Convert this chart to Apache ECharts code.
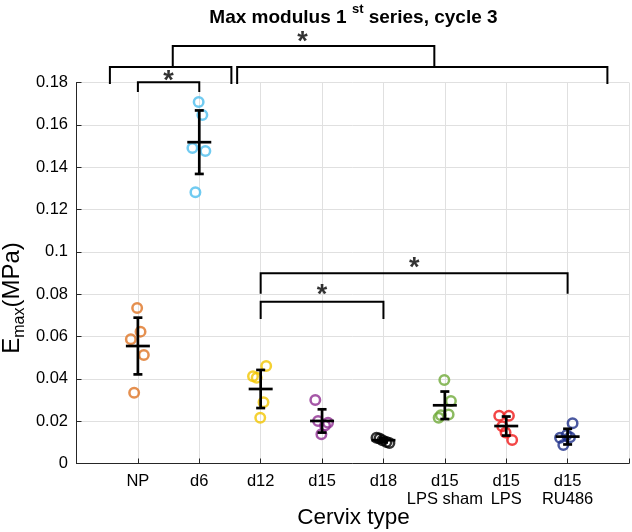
<!DOCTYPE html>
<html><head><meta charset="utf-8">
<script src="https://cdn.jsdelivr.net/npm/echarts@6/dist/echarts.min.js"></script>
<style>html,body{margin:0;padding:0;background:#fff}#c{width:632px;height:532px}</style>
</head><body><div id="c"></div>
<script>
// ---- data ----
const categories = ['NP', 'd6', 'd12', 'd15', 'd18', 'd15\nLPS sham', 'd15\nLPS', 'd15\nRU486'];
const yTickLabels = ['0', '0.02', '0.04', '0.06', '0.08', '0.1', '0.12', '0.14', '0.16', '0.18'];

const npValues     = [0.0735, 0.0623, 0.0587, 0.0513, 0.0334];
const d6Values     = [0.1708, 0.1646, 0.1491, 0.1476, 0.1281];
const d12Values    = [0.0461, 0.0412, 0.0405, 0.0289, 0.0216];
const d15Values    = [0.0300, 0.0201, 0.0138, 0.0180, 0.0192];
const d18Values    = [0.0122, 0.0118, 0.0110, 0.0102, 0.0097];
const shamValues   = [0.0394, 0.0295, 0.0232, 0.0216, 0.0228];
const lpsValues    = [0.0226, 0.0226, 0.0146, 0.0111, 0.0176];
const ru486Values  = [0.0190, 0.0122, 0.0135, 0.0087, 0.0124];

// horizontal jitter of each point, in category units
const npJitter    = [-0.012, 0.043, -0.115, 0.097, -0.061];
const d6Jitter    = [-0.010, 0.050, -0.112, 0.099, -0.063];
const d12Jitter   = [0.090, -0.125, -0.065, 0.046, -0.007];
const d15Jitter   = [-0.110, -0.065, -0.011, 0.049, 0.097];
const d18Jitter   = [-0.113, -0.065, -0.016, 0.049, 0.097];
const shamJitter  = [-0.008, 0.099, 0.062, -0.101, -0.065];
const lpsJitter   = [-0.114, 0.044, -0.011, 0.097, -0.065];
const ru486Jitter = [0.081, -0.123, -0.016, -0.070, 0.039];

const groupMeans = [0.0555, 0.1518, 0.0352, 0.0201, 0.0110, 0.0275, 0.0177, 0.0127];
const groupSDs   = [0.0134, 0.0150, 0.0090, 0.0055, 0.0010, 0.0065, 0.0045, 0.0037];

// significance brackets (data coordinates)
const bracketX1     = [1, 0.544, 2.617, 1.568, 3, 3];
const bracketX2     = [2, 2.523, 8.648, 5.829, 8, 5];
const bracketTop    = [0.1801, 0.1873, 0.1873, 0.1972, 0.0899, 0.0764];
const bracketBottom = [0.1760, 0.1798, 0.1798, 0.1873, 0.0807, 0.0687];
const starX = [1.5, 3.68, 5.5, 4.0];
const starY = [0.1835, 0.2015, 0.0949, 0.0823];

// ---- styling ----
const groupColors = ['#DE7424', '#4DBEEE', '#F2C500', '#8E2D91', '#000000', '#6FAA38', '#F01818', '#1E2F8A'];
const allValues = [npValues, d6Values, d12Values, d15Values, d18Values, shamValues, lpsValues, ru486Values];
const allJitter = [npJitter, d6Jitter, d12Jitter, d15Jitter, d18Jitter, shamJitter, lpsJitter, ru486Jitter];
const FONT = 'Liberation Sans, Arial, Helvetica, sans-serif';
const AXIS_COLOR = '#262626';
const GRID_COLOR = '#e0e0e0';

const series = [];
allValues.forEach((vals, g) => {
  series.push({
    type: 'scatter',
    name: categories[g],
    data: vals.map((v, i) => [g + 1 + allJitter[g][i], v]),
    symbol: 'circle',
    symbolSize: 9.5,
    itemStyle: { color: 'rgba(0,0,0,0)', borderColor: groupColors[g], borderWidth: 2.5 },
    z: 3,
    silent: true
  });
});

series.push({
  type: 'custom',
  data: groupMeans.map((m, g) => [g + 1, m, groupSDs[g]]),
  z: 5,
  silent: true,
  renderItem: function (params, api) {
    const x = api.value(0), m = api.value(1), s = api.value(2);
    const c = api.coord([x, m]);
    const t = api.coord([x, m + s]);
    const b = api.coord([x, m - s]);
    const st = { stroke: '#000', lineWidth: 2.7, fill: null };
    return {
      type: 'group',
      children: [
        { type: 'line', shape: { x1: c[0] - 12, y1: c[1], x2: c[0] + 12, y2: c[1] }, style: st },
        { type: 'line', shape: { x1: t[0], y1: t[1], x2: b[0], y2: b[1] }, style: st },
        { type: 'line', shape: { x1: t[0] - 4.5, y1: t[1], x2: t[0] + 4.5, y2: t[1] }, style: st },
        { type: 'line', shape: { x1: b[0] - 4.5, y1: b[1], x2: b[0] + 4.5, y2: b[1] }, style: st }
      ]
    };
  }
});

bracketX1.forEach((x1, k) => {
  const x2 = bracketX2[k];
  series.push({
    type: 'line',
    data: [[x1, bracketBottom[k]], [x1, bracketTop[k]], [x2, bracketTop[k]], [x2, bracketBottom[k]]],
    symbol: 'none',
    clip: false,
    silent: true,
    z: 6,
    lineStyle: { color: '#000', width: 2, cap: 'square', join: 'miter' }
  });
});

series.push({
  type: 'scatter',
  data: starX.map((x, k) => [x, starY[k]]),
  symbolSize: 1,
  clip: false,
  silent: true,
  itemStyle: { color: 'rgba(0,0,0,0)' },
  label: {
    show: true, position: 'inside', formatter: '*',
    fontSize: 27, fontWeight: 'bold', fontFamily: FONT, color: '#000', offset: [0, 6]
  },
  z: 7
});

const chart = echarts.init(document.getElementById('c'), null, { renderer: 'canvas' });
chart.setOption({
  animation: false,
  backgroundColor: '#ffffff',
  grid: { left: 76.5, right: 1.5, top: 82.5, bottom: 68.5, containLabel: false },
  xAxis: {
    type: 'value', min: 0, max: 9, interval: 1,
    axisLine: { show: true, lineStyle: { color: AXIS_COLOR, width: 1 } },
    axisTick: { show: true, inside: true, length: 5, lineStyle: { color: AXIS_COLOR } },
    splitLine: { show: true, lineStyle: { color: GRID_COLOR, width: 1 } },
    axisLabel: {
      fontSize: 16.5, fontFamily: FONT, color: '#000', margin: 9, lineHeight: 18,
      formatter: v => (v >= 1 && v <= categories.length) ? categories[v - 1] : ''
    }
  },
  yAxis: {
    type: 'value', min: 0, max: 0.18, interval: 0.02,
    axisLine: { show: true, lineStyle: { color: AXIS_COLOR, width: 1 } },
    axisTick: { show: true, inside: true, length: 5, lineStyle: { color: AXIS_COLOR } },
    splitLine: { show: true, lineStyle: { color: GRID_COLOR, width: 1 } },
    axisLabel: {
      fontSize: 16.5, fontFamily: FONT, color: '#000', margin: 8.5,
      formatter: v => yTickLabels[Math.round(v / 0.02)]
    }
  },
  graphic: [
    {
      type: 'text', x: 353.5, y: 15, silent: true,
      style: {
        text: '{a|Max modulus 1 }{s|st}{a| series, cycle 3}',
        align: 'center', verticalAlign: 'middle',
        rich: {
          a: { fontSize: 19, fontWeight: 'bold', fontFamily: FONT, color: '#000', lineHeight: 24, verticalAlign: 'bottom' },
          s: { fontSize: 13, fontWeight: 'bold', fontFamily: FONT, color: '#000', lineHeight: 13, verticalAlign: 'top' }
        }
      }
    },
    {
      type: 'text', x: 353.5, y: 518, silent: true,
      style: { text: 'Cervix type', fontSize: 22.5, fontFamily: FONT, fill: '#000', align: 'center', verticalAlign: 'middle' }
    },
    {
      type: 'text', x: 14, y: 298, rotation: Math.PI / 2, silent: true,
      style: {
        text: '{e|E}{m|max}{e|(MPa)}',
        align: 'center', verticalAlign: 'middle',
        rich: {
          e: { fontSize: 24, fontFamily: FONT, color: '#000', lineHeight: 28, verticalAlign: 'top' },
          m: { fontSize: 16, fontFamily: FONT, color: '#000', lineHeight: 17, padding: [14, 0, 0, 0], verticalAlign: 'bottom' }
        }
      }
    }
  ],
  series: series
});
</script>
</body></html>
